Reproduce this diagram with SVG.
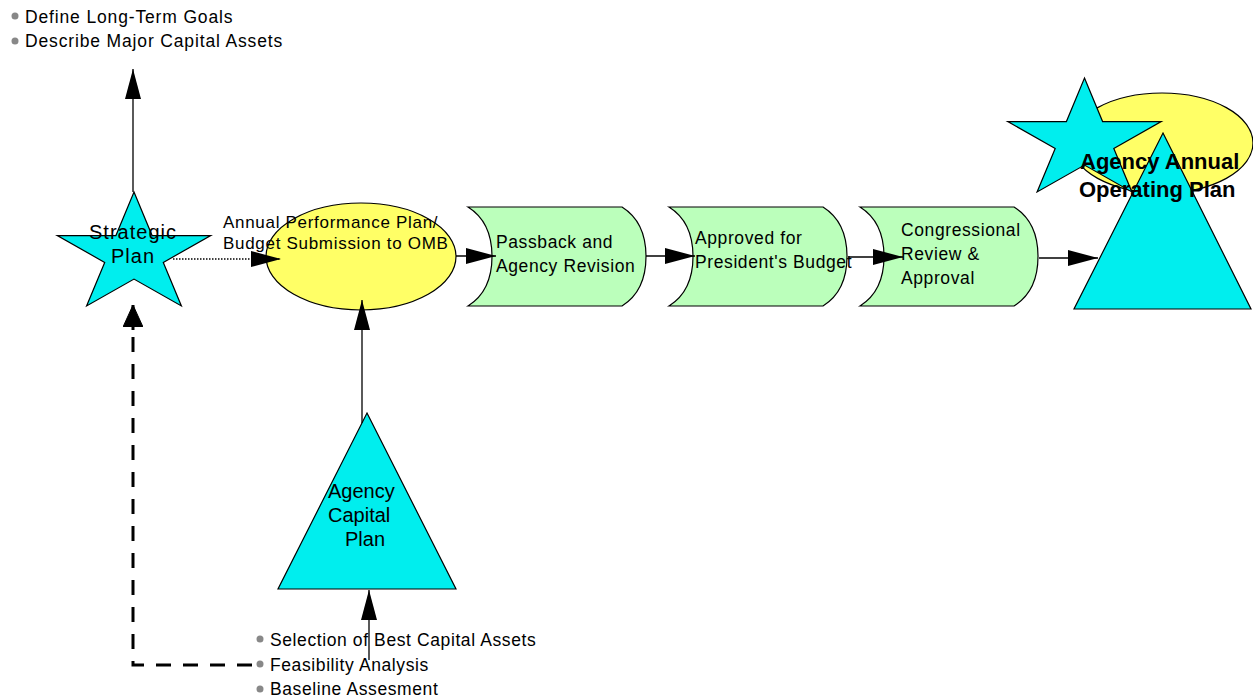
<svg xmlns="http://www.w3.org/2000/svg" xmlns:xlink="http://www.w3.org/1999/xlink" width="1253" height="700" viewBox="0 0 1253 700">
<style>
.t{font-family:"Liberation Sans",Arial,Helvetica,sans-serif;fill:#000}
.b{font-size:17.5px;letter-spacing:0.6px}
.bl{font-size:17.5px;letter-spacing:0.85px}
.lbl{font-size:17px;letter-spacing:0.7px}
.nl{font-size:20px}
.bold{font-size:22px;font-weight:bold}
.cyan{fill:#00EEEE;stroke:#000;stroke-width:1.2}
.yel{fill:#FFFF66;stroke:#000;stroke-width:1.2}
.grn{fill:#BBFFBB;stroke:#000;stroke-width:1.2}
.dot{fill:#888}
.ln{fill:none;stroke:#000;stroke-width:1.3}
</style>
<defs>
<marker id="arr" markerUnits="userSpaceOnUse" markerWidth="30" markerHeight="16" refX="30" refY="8" orient="auto" viewBox="0 0 30 16">
<path d="M0,0 L30,8 L0,16 Z" fill="#000"/>
</marker>
<marker id="arr2" markerUnits="userSpaceOnUse" markerWidth="22" markerHeight="20" refX="22" refY="10" orient="auto" viewBox="0 0 22 20">
<path d="M0,0 L22,10 L0,20 Z" fill="#000" stroke="#000" stroke-width="1" stroke-linejoin="round"/>
</marker>
<path id="proc" d="M0,0 H154 Q178,15 178,49.5 Q178,84 154,99 H0 Q24,84 24,49.5 Q24,15 0,0 Z"/>
<polygon id="star" points="0,-63 18.1,-19.47 76.7,-19.47 29.3,7.44 47.4,50.97 0,24.07 -47.4,50.97 -29.3,7.44 -76.7,-19.47 -18.1,-19.47"/>
</defs>

<g id="goals">
<circle class="dot" cx="15" cy="16" r="3.5"/>
<text class="t bl" x="25" y="23" letter-spacing="1.1">Define Long-Term Goals</text>
<circle class="dot" cx="15" cy="41" r="3.5"/>
<text class="t bl" x="25" y="47">Describe Major Capital Assets</text>
</g>

<g id="strategic-plan">
<use xlink:href="#star" href="#star" class="cyan" transform="translate(134,255)"/>
<text class="t nl" x="133" y="239" text-anchor="middle" letter-spacing="1">Strategic</text>
<text class="t nl" x="133" y="263" text-anchor="middle" letter-spacing="1">Plan</text>
</g>

<g id="performance-plan">
<ellipse class="yel" cx="361" cy="256.5" rx="95" ry="53.5"/>
</g>

<g id="passback">
<use xlink:href="#proc" href="#proc" class="grn" transform="translate(468,207)"/>
<text class="t b" x="496" y="248">Passback and</text>
<text class="t b" x="496" y="272">Agency Revision</text>
</g>

<g id="approved">
<use xlink:href="#proc" href="#proc" class="grn" transform="translate(669,207)"/>
<text class="t b" x="695" y="244">Approved for</text>
<text class="t b" x="695" y="268" letter-spacing="0.2">President's Budget</text>
</g>

<g id="congressional">
<use xlink:href="#proc" href="#proc" class="grn" transform="translate(860,207)"/>
<text class="t b" x="901" y="236">Congressional</text>
<text class="t b" x="901" y="260">Review &amp;</text>
<text class="t b" x="901" y="284">Approval</text>
</g>

<g id="operating-plan">
<ellipse class="yel" cx="1162" cy="143" rx="91" ry="50"/>
<use xlink:href="#star" href="#star" class="cyan" transform="translate(1084.5,141)"/>
<polygon class="cyan" points="1163,133 1251,309 1074,309"/>
<text class="t bold" x="1080" y="169">Agency Annual</text>
<text class="t bold" x="1079" y="197">Operating Plan</text>
</g>

<g id="capital-plan">
<polygon class="cyan" points="367,413 456,589 278,589"/>
<text class="t nl" x="328" y="498">Agency</text>
<text class="t nl" x="328" y="522">Capital</text>
<text class="t nl" x="345" y="546">Plan</text>
</g>

<g id="capital-steps">
<circle class="dot" cx="260" cy="639" r="3.5"/>
<text class="t b" x="270" y="646" letter-spacing="0.65">Selection of Best Capital Assets</text>
<circle class="dot" cx="260" cy="664" r="3.5"/>
<text class="t b" x="270" y="671">Feasibility Analysis</text>
<circle class="dot" cx="260" cy="689" r="3.5"/>
<text class="t b" x="270" y="695" letter-spacing="0.8">Baseline Assesment</text>
</g>

<g id="connectors">
<line class="ln" x1="133" y1="192" x2="133" y2="69" marker-end="url(#arr)"/>
<text class="t lbl" x="223" y="228">Annual Performance Plan/</text>
<text class="t lbl" x="223" y="249">Budget Submission to OMB</text>
<line x1="173" y1="259" x2="281" y2="259" stroke="#000" stroke-width="1.3" stroke-dasharray="1.5 1.5" marker-end="url(#arr)"/>
<line class="ln" x1="456" y1="256" x2="496" y2="256" marker-end="url(#arr)"/>
<line class="ln" x1="646" y1="256" x2="695" y2="256" marker-end="url(#arr)"/>
<line class="ln" x1="848" y1="257" x2="903" y2="257" marker-end="url(#arr)"/>
<line class="ln" x1="1039" y1="258" x2="1098" y2="258" marker-end="url(#arr)"/>
<line class="ln" x1="362" y1="423" x2="362" y2="300" marker-end="url(#arr)"/>
<line class="ln" x1="369" y1="660" x2="369" y2="590" marker-end="url(#arr)"/>
<path d="M252,665 H133 V327" fill="none" stroke="#000" stroke-width="3" stroke-dasharray="15 12"/>
<line x1="133" y1="330" x2="133" y2="305" stroke="#000" stroke-width="3" marker-end="url(#arr2)"/>
</g>
</svg>
